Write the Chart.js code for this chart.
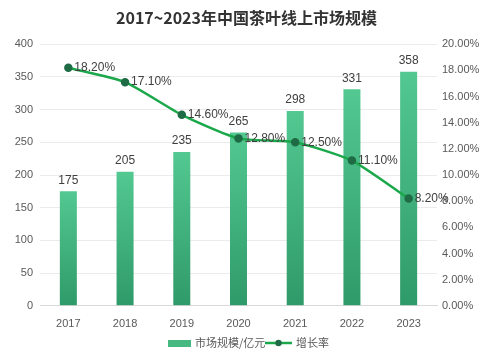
<!DOCTYPE html>
<html><head><meta charset="utf-8">
<script src="https://cdn.jsdelivr.net/npm/chart.js@4/dist/chart.umd.min.js"></script>
<style>html,body{margin:0;padding:0;background:#fff}#wrap{width:493px;height:358px}</style>
</head><body><div id="wrap"><canvas id="c" width="493" height="358"></canvas></div>
<script>
const title = "2017~2023年中国茶叶线上市场规模";
const categories = ["2017","2018","2019","2020","2021","2022","2023"];
const marketSize = [175,205,235,265,298,331,358];
const growthRate = [18.2,17.1,14.6,12.8,12.5,11.1,8.2];
const leftTicks = [0,50,100,150,200,250,300,350,400];
const rightTicks = [0,2,4,6,8,10,12,14,16,18,20];
const seriesNames = ["市场规模/亿元","增长率"];

const FONT = "'Liberation Sans', Arial, 'Noto Sans CJK SC', sans-serif";
const CJK = "'Noto Sans CJK SC', 'Liberation Sans', sans-serif";

const labelPlugin = {
  id:'labels',
  afterDatasetsDraw(chart){
    const ctx = chart.ctx;
    ctx.save();
    ctx.font = "12px " + FONT;
    ctx.fillStyle = "#404040";
    const barMeta = chart.getDatasetMeta(1);
    barMeta.data.forEach((el,i)=>{
      ctx.textAlign='center'; ctx.textBaseline='bottom';
      ctx.fillText(String(marketSize[i]), el.x, el.y-5);
    });
    const lineMeta = chart.getDatasetMeta(0);
    lineMeta.data.forEach((el,i)=>{
      ctx.textAlign='left'; ctx.textBaseline='middle';
      ctx.fillText(growthRate[i].toFixed(2)+'%', el.x+6, el.y);
    });
    // legend
    const ly = 343;
    ctx.font = "11px " + CJK;
    ctx.fillStyle = "#45b97f";
    ctx.fillRect(168, ly-3, 23, 7);
    ctx.fillStyle = "#595959";
    ctx.textAlign='left'; ctx.textBaseline='middle';
    ctx.fillText(seriesNames[0], 195, ly);
    ctx.strokeStyle = "#1aa84a"; ctx.lineWidth = 2.5;
    ctx.beginPath(); ctx.moveTo(265, ly); ctx.lineTo(292, ly); ctx.stroke();
    ctx.fillStyle = "#1f6b45";
    ctx.beginPath(); ctx.arc(278.5, ly, 3.2, 0, Math.PI*2); ctx.fill();
    ctx.fillStyle = "#595959";
    ctx.fillText(seriesNames[1], 296, ly);
    ctx.restore();
  }
};

function barGradient(context){
  const chart = context.chart;
  const {chartArea} = chart;
  if (!chartArea) return '#45b97f';
  const y = chart.scales.y;
  const v = context.raw;
  const top = y.getPixelForValue(v);
  const bottom = y.getPixelForValue(0);
  const g = chart.ctx.createLinearGradient(0, top, 0, bottom);
  g.addColorStop(0, '#53c891');
  g.addColorStop(1, '#2f9a69');
  return g;
}

new Chart(document.getElementById('c'), {
  data: {
    labels: categories,
    datasets: [
      { type:'line', label: seriesNames[1], data: growthRate, yAxisID:'y1',
        borderColor:'#1aa84a', borderWidth:2.5, tension:0.2,
        pointBackgroundColor:'#1f6b45', pointBorderColor:'#1f6b45', pointRadius:3, order:0 },
      { type:'bar', label: seriesNames[0], data: marketSize, yAxisID:'y',
        backgroundColor: barGradient, barPercentage:0.3, categoryPercentage:1, order:1 }
    ]
  },
  options: {
    responsive:false, animation:false,
    layout:{ padding:{ top:0, bottom:23, left:0, right:0 } },
    plugins:{
      legend:{display:false}, tooltip:{enabled:false},
      title:{ display:true, text:title, color:'#333', font:{size:16, weight:'bold', family:CJK}, padding:{top:8,bottom:17} }
    },
    scales:{
      x:{ grid:{display:false}, border:{display:true,color:'#d9d9d9'},
          ticks:{ color:'#595959', font:{size:11, family:FONT}, padding:4 } },
      y:{ position:'left', min:0, max:400,
          afterBuildTicks(s){ s.ticks = leftTicks.map(v=>({value:v})); },
          afterFit(s){ s.width = 40; },
          grid:{ color:'#ebebeb', drawTicks:false }, border:{display:false},
          ticks:{ color:'#595959', font:{size:11, family:FONT}, padding:7 } },
      y1:{ position:'right', min:0, max:20,
          afterBuildTicks(s){ s.ticks = rightTicks.map(v=>({value:v})); },
          afterFit(s){ s.width = 56; },
          grid:{ display:false, drawTicks:false }, border:{display:false},
          ticks:{ color:'#595959', font:{size:11, family:FONT}, padding:5,
                  callback:(v)=>Number(v).toFixed(2)+'%' } }
    }
  },
  plugins:[labelPlugin]
});
</script></body></html>
